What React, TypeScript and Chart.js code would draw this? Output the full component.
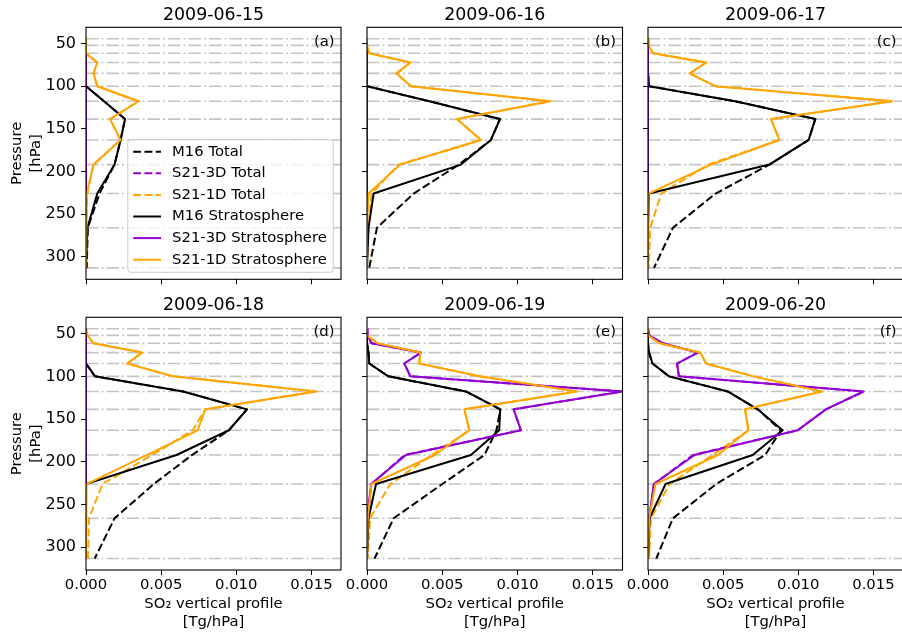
import React, { useEffect, useRef } from "react";
import { Chart, registerables } from "chart.js";
Chart.register(...registerables);

// Pressure levels (hPa), top to bottom
const LEVELS = [44.3, 52.1, 61.3, 72.2, 85.0, 100.0, 117.7, 138.6, 163.1, 192.0, 226.0, 266.1, 313.2];
const DATES = ["2009-06-15", "2009-06-16", "2009-06-17", "2009-06-18", "2009-06-19", "2009-06-20"];
const TAGS = ["(a)", "(b)", "(c)", "(d)", "(e)", "(f)"];

// SO2 vertical profile [Tg/hPa] per day (rows) at LEVELS (columns)
const M16_TOTAL = [
  [0, 0, 0, 0, 0, 0, 0.0012, 0.0026, 0.0023, 0.0019, 0.0009, 0.00012, 0.00005],
  [0, 0, 0, 0, 0, 0, 0.00414, 0.00883, 0.00823, 0.0061, 0.0031, 0.00066, 0.00015],
  [0, 0, 0, 0, 0, 0.00007, 0.0058, 0.01113, 0.01069, 0.00808, 0.0045, 0.00166, 0.0004],
  [0, 0, 0, 0, 0, 0.0006, 0.00646, 0.01071, 0.00951, 0.00706, 0.00451, 0.0019, 0.00058],
  [0, 0, 0, 0.0001, 0.00015, 0.00142, 0.00657, 0.00885, 0.0086, 0.0078, 0.005, 0.00177, 0.0005],
  [0, 0, 0, 0.00007, 0.0003, 0.0014, 0.00531, 0.0073, 0.00885, 0.0078, 0.00454, 0.00166, 0.00055],
];
const S21_3D_TOTAL = [
  [0, 0, 0, 0, 0, 0, 0, 0, 0, 0, 0, 0, 0],
  [0, 0, 0, 0, 0, 0, 0, 0, 0, 0, 0, 0, 0],
  [0, 0, 0, 0, 0, 0, 0, 0, 0, 0, 0, 0, 0],
  [0, 0, 0, 0, 0, 0, 0, 0, 0, 0, 0, 0, 0],
  [0, 0.00004, 0.0003, 0.00358, 0.00248, 0.00288, 0.01697, 0.00974, 0.01022, 0.0025, 0.0003, 0.00005, 0.00002],
  [0, 0.00007, 0.001, 0.00332, 0.00193, 0.00206, 0.01435, 0.01184, 0.00996, 0.003, 0.0004, 0.0001, 0.00002],
];
const S21_1D_TOTAL = [
  [0, 0, 0, 0.00075, 0.0005, 0.00075, 0.0035, 0.0016, 0.0023, 0.0005, 0.00008, 0.00002, 0],
  [0, 0, 0.00015, 0.00288, 0.00197, 0.00292, 0.01217, 0.00597, 0.00757, 0.0021, 0.0003, 0.0001, 0],
  [0, 0.00005, 0.00033, 0.00387, 0.00277, 0.00447, 0.01626, 0.00819, 0.00874, 0.004, 0.00088, 0.00015, 0.00004],
  [0, 0.0001, 0.00049, 0.00374, 0.00274, 0.0058, 0.01531, 0.00794, 0.0071, 0.0044, 0.0011, 0.0002, 0.00013],
  [0, 0, 0.0007, 0.00354, 0.00347, 0.0075, 0.01394, 0.00646, 0.0068, 0.0043, 0.00155, 0.0002, 0.00005],
  [0, 0, 0.00078, 0.00347, 0.00387, 0.00701, 0.01158, 0.00646, 0.00668, 0.0043, 0.00144, 0.0002, 0.00007],
];
const M16_STRAT = [
  [0, 0, 0, 0, 0, 0, 0.0012, 0.0026, 0.0023, 0.0019, 0.00075, 0.0001, 0],
  [0, 0, 0, 0, 0, 0, 0.00414, 0.00883, 0.00823, 0.00624, 0.00044, 0.0001, 0],
  [0, 0, 0, 0, 0, 0.00007, 0.0058, 0.01113, 0.01069, 0.00808, 0.00007, 0, 0],
  [0, 0, 0, 0, 0, 0.0006, 0.00646, 0.01071, 0.00951, 0.00602, 0, 0, 0],
  [0, 0, 0, 0.0001, 0.00015, 0.00142, 0.00657, 0.00885, 0.00878, 0.0069, 0.0006, 0.0001, 0],
  [0, 0, 0, 0.00007, 0.0003, 0.0014, 0.00531, 0.0073, 0.00896, 0.00697, 0.00117, 0.0001, 0],
];
const S21_3D_STRAT = [
  [0, 0, 0, 0, 0, 0, 0, 0, 0, 0, 0, 0, 0],
  [0, 0, 0, 0, 0, 0, 0, 0, 0, 0, 0, 0, 0],
  [0, 0, 0, 0, 0, 0, 0, 0, 0, 0, 0, 0, 0],
  [0, 0, 0, 0, 0, 0, 0, 0, 0, 0, 0, 0, 0],
  [0, 0.00004, 0.0003, 0.00358, 0.00248, 0.00288, 0.01697, 0.00974, 0.01022, 0.00259, 0.00027, 0, 0],
  [0, 0.00007, 0.001, 0.00332, 0.00193, 0.00206, 0.01435, 0.01184, 0.00996, 0.0031, 0.00038, 0.00007, 0],
];
const S21_1D_STRAT = [
  [0, 0, 0, 0.00075, 0.0005, 0.00075, 0.0035, 0.0016, 0.0023, 0.0005, 0.00005, 0, 0],
  [0, 0, 0.00015, 0.00288, 0.00197, 0.00292, 0.01217, 0.00597, 0.00757, 0.00221, 0.0001, 0, 0],
  [0, 0.00005, 0.00033, 0.00387, 0.00277, 0.00447, 0.01626, 0.00819, 0.00874, 0.0042, 0.00004, 0, 0],
  [0, 0.0001, 0.00049, 0.00374, 0.00274, 0.0058, 0.01531, 0.00794, 0.00743, 0.00407, 0.00004, 0, 0],
  [0, 0, 0.0007, 0.00354, 0.00347, 0.0075, 0.01394, 0.00646, 0.0068, 0.0045, 0.0003, 0.00005, 0],
  [0, 0, 0.00078, 0.00347, 0.00387, 0.00701, 0.01158, 0.00646, 0.00668, 0.00465, 0.0005, 0.00007, 0],
];

const SERIES_NAMES = ["M16 Total", "S21-3D Total", "S21-1D Total", "M16 Stratosphere", "S21-3D Stratosphere", "S21-1D Stratosphere"];
const SERIES_DATA = [M16_TOTAL, S21_3D_TOTAL, S21_1D_TOTAL, M16_STRAT, S21_3D_STRAT, S21_1D_STRAT];
const SERIES_COLORS = ["#000000", "#9400d3", "#ffa500", "#000000", "#9400d3", "#ffa500"];
const SERIES_DASHED = [true, true, true, false, false, false];

const X_MIN = 0;
const X_MAX = 0.01697;
const Y_MIN = 30.9;
const Y_MAX = 326.6;

const FONT = "'DejaVu Sans', sans-serif";
const FS = 14.8;
const FS_YTICK = 16;
const FS_TITLE = 17.4;
const DASH = [7.9, 3.4];
const CW = 910;
const CH = 635;

function Panel({ idx }: { idx: number }) {
  const ref = useRef<HTMLCanvasElement | null>(null);
  useEffect(() => {
    const canvas = ref.current;
    if (!canvas) return;
    const row = Math.floor(idx / 3);
    const col = idx % 3;
    const L = [86, 367, 648][col];
    const R = [341, 622.5, 903][col];
    const B = [279.3, 570][row];
    const padTop = [0, 290][row];
    const yw = col === 0 ? 86 : 20;
    const xh = row === 1 ? 65 : 10;
    const titleLH = FS_TITLE * 1.2;
    const titlePadTop = 15.9 - titleLH / 2;
    const titlePadBottom = 27.3 - titlePadTop - titleLH;

    const datasets = SERIES_DATA.map((s, i) => ({
      label: SERIES_NAMES[i],
      data: LEVELS.map((p, k) => ({ x: s[idx][k], y: p })),
      showLine: true,
      borderColor: SERIES_COLORS[i],
      backgroundColor: SERIES_COLORS[i],
      borderWidth: 2,
      borderDash: SERIES_DASHED[i] ? DASH : [],
      borderJoinStyle: "round",
      borderCapStyle: "butt",
      pointRadius: 0,
      pointHoverRadius: 0,
      tension: 0,
      fill: false,
      order: 5 - i,
    }));

    const decor = {
      id: "decor",
      beforeDatasetsDraw(chart: any) {
        const { ctx, chartArea: a, scales } = chart;
        const y = scales.y;
        ctx.save();
        ctx.beginPath();
        ctx.rect(a.left, a.top, a.right - a.left, a.bottom - a.top);
        ctx.clip();
        ctx.strokeStyle = "#c4c4c4";
        ctx.lineWidth = 1.6;
        ctx.setLineDash([12.5, 3, 2, 3]);
        for (const p of LEVELS) {
          const py = y.getPixelForValue(p);
          ctx.beginPath();
          ctx.moveTo(a.left, py);
          ctx.lineTo(a.right, py);
          ctx.stroke();
        }
        ctx.restore();
      },
      afterDatasetsDraw(chart: any) {
        const { ctx, chartArea: a } = chart;
        ctx.save();
        ctx.setLineDash([]);
        ctx.strokeStyle = "#000";
        ctx.lineWidth = 1.1;
        ctx.strokeRect(a.left, a.top, a.right - a.left, a.bottom - a.top);
        ctx.fillStyle = "#000";
        ctx.font = `${FS}px ${FONT}`;
        ctx.textAlign = "right";
        ctx.textBaseline = "middle";
        ctx.fillText(TAGS[idx], a.right - 6.5, a.top + 14.5);

        if (idx === 0) {
          const textW = Math.max(...SERIES_NAMES.map((n) => ctx.measureText(n).width));
          const bw = 5.4 + 27.8 + 11.1 + textW + 6.5;
          const rowH = 21.6;
          const bh = 12 + rowH * 5 + 12.6;
          const bx = a.right - 7.7 - bw;
          const by = a.bottom - 7 - bh;
          ctx.beginPath();
          if ((ctx as any).roundRect) (ctx as any).roundRect(bx, by, bw, bh, 3);
          else ctx.rect(bx, by, bw, bh);
          ctx.fillStyle = "rgba(255,255,255,0.8)";
          ctx.fill();
          ctx.strokeStyle = "#cccccc";
          ctx.lineWidth = 1;
          ctx.stroke();
          SERIES_NAMES.forEach((n, i) => {
            const cy = by + 12 + i * rowH;
            ctx.beginPath();
            ctx.setLineDash(SERIES_DASHED[i] ? DASH : []);
            ctx.strokeStyle = SERIES_COLORS[i];
            ctx.lineWidth = 2;
            ctx.moveTo(bx + 5.4, cy);
            ctx.lineTo(bx + 5.4 + 27.8, cy);
            ctx.stroke();
            ctx.setLineDash([]);
            ctx.fillStyle = "#000";
            ctx.textAlign = "left";
            ctx.textBaseline = "middle";
            ctx.fillText(n, bx + 44.3, cy);
          });
        }
        ctx.restore();
      },
    };

    const chart = new Chart(canvas, {
      type: "scatter",
      data: { datasets: datasets as any },
      plugins: [decor],
      options: {
        responsive: false,
        animation: false,
        events: [],
        layout: {
          padding: { left: L - yw, right: CW - R, top: padTop, bottom: CH - B - xh },
        },
        plugins: {
          legend: { display: false },
          tooltip: { enabled: false },
          title: {
            display: true,
            text: DATES[idx],
            fullSize: false,
            color: "#000",
            font: { family: FONT, size: FS_TITLE, weight: "normal", lineHeight: 1.2 },
            padding: { top: titlePadTop, bottom: titlePadBottom },
          },
        },
        scales: {
          x: {
            type: "linear",
            position: "bottom",
            min: X_MIN,
            max: X_MAX,
            afterFit: (s: any) => {
              s.height = xh;
            },
            grid: { display: true, drawOnChartArea: false, drawTicks: true, tickLength: 5, color: "#000", lineWidth: 1 },
            border: { display: false },
            ticks: {
              display: row === 1,
              stepSize: 0.005,
              includeBounds: false,
              autoSkip: false,
              maxRotation: 0,
              minRotation: 0,
              padding: 1.2,
              color: "#000",
              font: { family: FONT, size: FS },
              callback: (v: any) => Number(v).toFixed(3),
            },
            title: {
              display: row === 1,
              text: ["SO\u2082 vertical profile", "[Tg/hPa]"],
              color: "#000",
              font: { family: FONT, size: FS, lineHeight: 1.26 },
              padding: { top: 0, bottom: 3.2 },
            },
          },
          y: {
            type: "linear",
            position: "left",
            reverse: true,
            min: Y_MIN,
            max: Y_MAX,
            afterFit: (s: any) => {
              s.width = yw;
            },
            grid: { display: true, drawOnChartArea: false, drawTicks: true, tickLength: 5, color: "#000", lineWidth: 1 },
            border: { display: false },
            ticks: {
              display: col === 0,
              stepSize: 50,
              includeBounds: false,
              autoSkip: false,
              padding: 5,
              color: "#000",
              font: { family: FONT, size: FS_YTICK },
            },
            title: {
              display: col === 0,
              text: ["Pressure", "[hPa]"],
              color: "#000",
              font: { family: FONT, size: FS, lineHeight: 1.26 },
              padding: { top: 8.3, bottom: 0 },
            },
          },
        },
      } as any,
    });
    return () => chart.destroy();
  }, [idx]);
  return <canvas ref={ref} width={CW} height={CH} style={{ position: "absolute", left: 0, top: 0 }} />;
}

export default function App() {
  return (
    <div style={{ position: "absolute", left: 0, top: 0, width: 902, height: 635, overflow: "hidden", background: "#fff" }}>
      {[0, 1, 2, 3, 4, 5].map((i) => (
        <Panel key={i} idx={i} />
      ))}
    </div>
  );
}
